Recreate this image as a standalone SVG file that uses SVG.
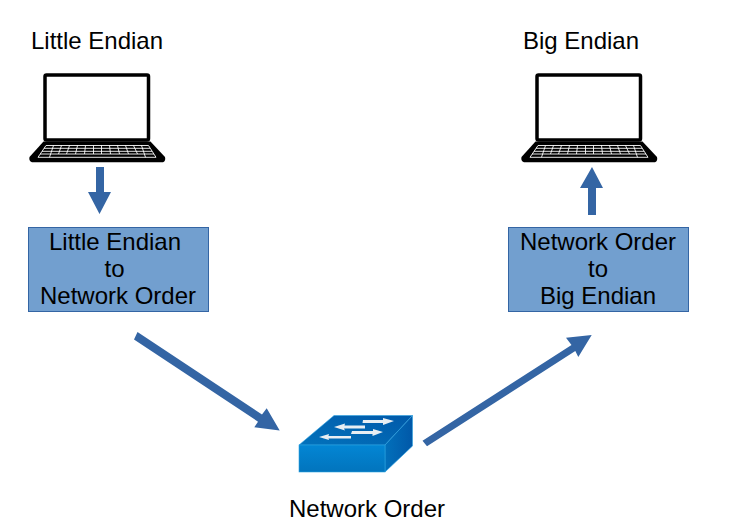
<svg xmlns="http://www.w3.org/2000/svg" width="742" height="527" viewBox="0 0 742 527">
<style>
text{font-family:"Liberation Sans",Arial,sans-serif;font-size:24px;fill:#000;text-anchor:middle}
.box{fill:#729fcf;stroke:#3465a4;stroke-width:1}
.arrow{fill:#3465a4}
.kb{fill:none;stroke:#fff;stroke-width:.9}
</style>
<defs>
<linearGradient id="front" x1="0" y1="0" x2="0" y2="1"><stop offset="0" stop-color="#0386d4"/><stop offset="1" stop-color="#0274bd"/></linearGradient>
<linearGradient id="side" x1="0" y1="0" x2="1" y2="0"><stop offset="0" stop-color="#0270bb"/><stop offset="1" stop-color="#0158a8"/></linearGradient>
<linearGradient id="top" x1="0" y1="1" x2="1" y2="0"><stop offset="0" stop-color="#0272bc"/><stop offset="1" stop-color="#0159a9"/></linearGradient>
<g id="laptop">
<rect x="1.500" y="2" width="103.500" height="65" rx="1.500" fill="#fff" stroke="#000" stroke-width="3.500"/>
<path d="M0 68.500H107L121.500 84Q122.500 88 119.500 89.300H-11.500Q-15 88 -14 84Z" fill="#000"/>
<path class="kb" d="M-5.500 84.300H112.500L105 72.500H2.500ZM-3.500 81H110.500M-1.500 78.300H108.500M.5 75.300H106.500M10 72.500L6 84.300M18 72.500L15 81M26 72.500L23 81M34 72.500L32 81M42 72.500L41 81M50 72.500V81M58 72.500V81M66 72.500L67 81M74 72.500L76 81M82 72.500L85 81M90 72.500L94 81M98 72.500L102 84.300"/>
</g>
</defs>
<g id="connectors">
<path class="arrow" d="M96 167H104V192H111L99.500 214L88 192H96Z"/>
<path class="arrow" d="M588 215H596V188H603L592 167L580 188H588Z"/>
<path class="arrow" d="M137.500 332L262 414.500L266.700 408.300L279.700 430.500L254.300 427.300L258 421.700L134 339.500Z"/>
<path class="arrow" d="M427 446.300L575.300 351L578.300 357L591.700 335L566 337.700L571.500 345L422.500 440.700Z"/>
</g>
<g id="little-endian-host">
<text x="97" y="49">Little Endian</text>
<use href="#laptop" x="43.500" y="73"/>
</g>
<g id="big-endian-host">
<text x="581" y="49">Big Endian</text>
<use href="#laptop" x="535.500" y="73"/>
</g>
<g id="le-to-network">
<rect class="box" x="28.500" y="227.500" width="180" height="84"/>
<text x="115" y="250">Little Endian</text>
<text x="114.500" y="277">to</text>
<text x="118" y="304">Network Order</text>
</g>
<g id="network-to-be">
<rect class="box" x="508.500" y="227.500" width="180" height="84"/>
<text x="598" y="250">Network Order</text>
<text x="598" y="277">to</text>
<text x="598" y="304">Big Endian</text>
</g>
<g id="network-switch">
<path d="M299 445L334 415.500H412.500L385 445Z" fill="url(#top)" stroke="#2ea3e0" stroke-width=".6"/>
<path d="M385 445L412.500 415.500V446L385 472Z" fill="url(#side)" stroke="#2ea3e0" stroke-width=".6"/>
<rect x="299" y="445" width="86" height="27" fill="url(#front)" stroke="#2ea3e0" stroke-width=".6"/>
<path d="M363 420H383V418L394 421L383 425V423H362.500Z" fill="#e8eef3"/>
<path d="M352 431H373V429L383 432L372.500 436V434H351Z" fill="#e8eef3"/>
<path d="M365 425.500V428.500H344L345 430.500L334 427L345 423.500L344.500 425.500Z" fill="#e8eef3"/>
<path d="M351 436V438.500H328.500L329 440L319 437L329 434L328.500 436Z" fill="#e8eef3"/>
<text x="367" y="517">Network Order</text>
</g>
</svg>
